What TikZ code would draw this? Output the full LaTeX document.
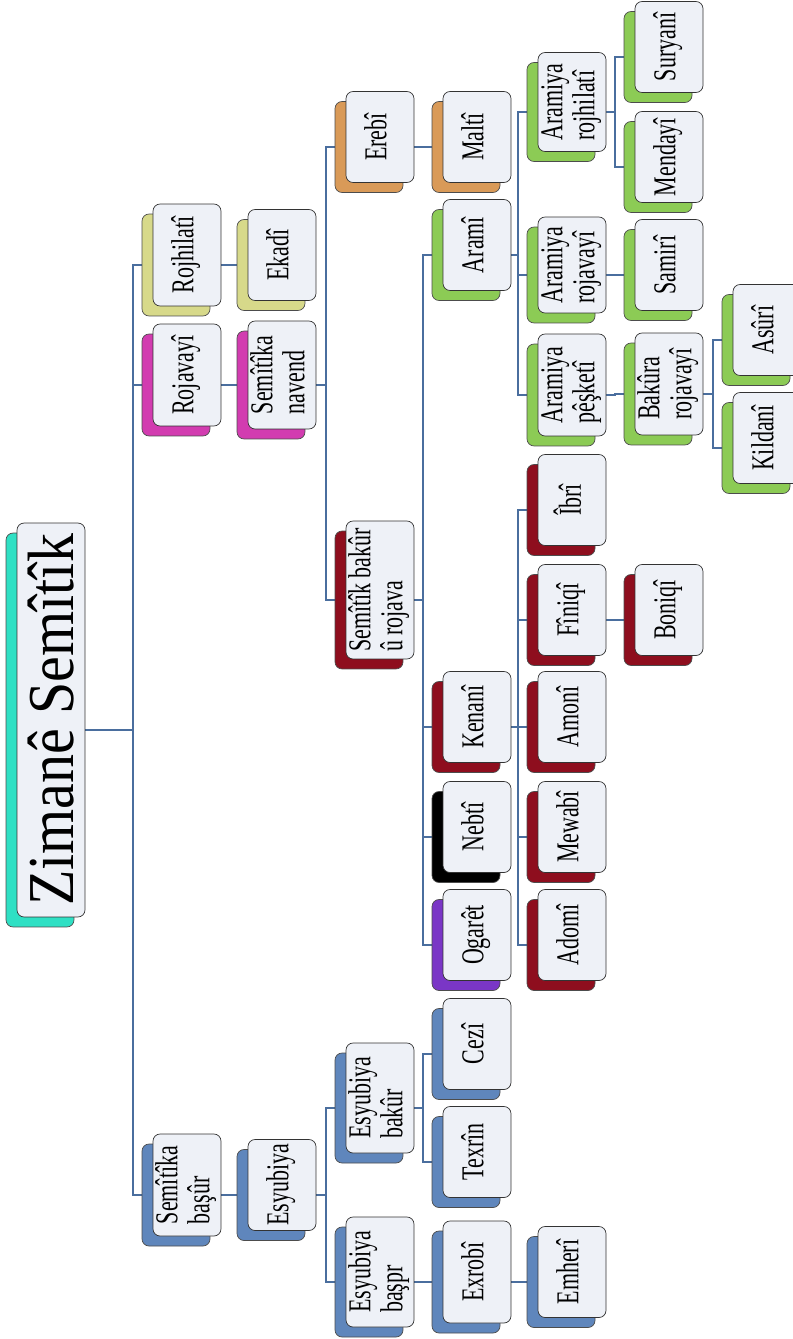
\documentclass[tikz,border=0pt]{standalone}
\usepackage{fontspec}
\usepackage{graphicx}
\setmainfont{Liberation Serif}
\usetikzlibrary{shadows,backgrounds}

\definecolor{boxfill}{HTML}{EEF1F7}
\definecolor{linkblue}{HTML}{4A6E9E}
\definecolor{shroot}{HTML}{2FE0C4}
\definecolor{shkhaki}{HTML}{D7D98A}
\definecolor{shpink}{HTML}{D23CB0}
\definecolor{shorange}{HTML}{D99A58}
\definecolor{shred}{HTML}{8E0E1E}
\definecolor{shpurple}{HTML}{7A36C6}
\definecolor{shgreen}{HTML}{8CCB55}
\definecolor{shblue}{HTML}{5F86BC}

\newcommand{\rtext}[1]{\rotatebox{90}{\scalebox{1}[1.45]{\begin{tabular}{@{}l@{}}#1\end{tabular}}}}

\tikzset{
    lang/.style={
           rectangle,
           draw=black!80, thin,
           rounded corners=4pt,
           fill=boxfill,
           minimum width=1.36cm, minimum height=1.82cm,
           inner xsep=1pt, inner ysep=2pt,
           font=\fontsize{12.5}{12.5}\selectfont,
           copy shadow={shadow xshift=-0.22cm, shadow yshift=-0.2cm, fill=#1, draw=black!70},
           },
    tall/.style={minimum height=2.04cm},
    link/.style={draw=linkblue, line width=1.1pt},
}

\begin{document}
\begin{tikzpicture}[x=0.02cm, y=-0.02cm]
\useasboundingbox (0,0) rectangle (793,1339);

       % root
       \node[lang=shroot, minimum height=7.88cm, font=\fontsize{33}{36}\selectfont] (ROOT) at (51,720)
            {\rotatebox{90}{\scalebox{1}[1.13]{Zimanê Semîtîk}}};

       % first level
       \node[lang=shkhaki, tall] (ROJHILATI) at (187,255) {\rtext{Rojhilatî}};
       \node[lang=shpink, tall] (ROJAVAYI) at (187,375) {\rtext{Rojavayî}};
       \node[lang=shblue, tall] (SEMBASUR) at (187,1185) {\rtext{Semîtîka\\ başûr}};

       \node[lang=shkhaki] (EKADI) at (282,255) {\rtext{Ekadî}};
       \node[lang=shpink, minimum height=2.16cm] (SEMNAVEND) at (282,375) {\rtext{Semîtîka\\ navend}};
       \node[lang=shblue] (ESYUBIYA) at (282,1185) {\rtext{Esyubiya}};

       \node[lang=shorange] (EREBI) at (380,137) {\rtext{Erebî}};
       \node[lang=shred, minimum height=2.76cm] (SEMBAKUR) at (380,590) {\rtext{Semîtîk bakûr\\ û rojava}};
       \node[lang=shblue, minimum height=2.2cm] (ESBAKUR) at (380,1098) {\rtext{Esyubiya\\ bakûr}};
       \node[lang=shblue, minimum height=2.2cm] (ESBASPR) at (380,1272) {\rtext{Esyubiya\\ başpr}};

       \node[lang=shorange] (MALTI) at (477,137) {\rtext{Maltî}};
       \node[lang=shgreen] (ARAMI) at (477,245) {\rtext{Aramî}};
       \node[lang=shred] (KENANI) at (477,717) {\rtext{Kenanî}};
       \node[lang=black] (NEBTI) at (477,827) {\rtext{Nebtî}};
       \node[lang=shpurple] (OGARET) at (477,935) {\rtext{Ogarêt}};
       \node[lang=shblue] (CEZI) at (477,1044) {\rtext{Cezî}};
       \node[lang=shblue] (TEXRIN) at (477,1152) {\rtext{Texrîn}};
       \node[lang=shblue, tall] (EXROBI) at (477,1272) {\rtext{Exrobî}};

       \node[lang=shgreen, minimum height=1.98cm] (ARROJHILATI) at (572,102) {\rtext{Aramiya\\ rojhilatî}};
       \node[lang=shgreen, minimum height=1.92cm] (ARROJAVAYI) at (572,265) {\rtext{Aramiya\\ rojavayî}};
       \node[lang=shgreen, tall] (ARPESKETI) at (572,385) {\rtext{Aramiya\\ pêşketî}};
       \node[lang=shred] (IBRI) at (572,500) {\rtext{Îbrî}};
       \node[lang=shred] (FINIQI) at (572,610) {\rtext{Fîniqî}};
       \node[lang=shred] (AMONI) at (572,717) {\rtext{Amonî}};
       \node[lang=shred] (MEWABI) at (572,827) {\rtext{Mewabî}};
       \node[lang=shred] (ADOMI) at (572,935) {\rtext{Adomî}};
       \node[lang=shblue] (EMHERI) at (572,1272) {\rtext{Emherî}};

       \node[lang=shgreen] (SURYANI) at (669,47) {\rtext{Suryanî}};
       \node[lang=shgreen] (MENDAYI) at (669,157) {\rtext{Mendayî}};
       \node[lang=shgreen] (SAMIRI) at (669,265) {\rtext{Samirî}};
       \node[lang=shgreen, tall] (BAKROJAVAYI) at (669,384) {\rtext{Bakûra\\ rojavayî}};
       \node[lang=shred] (BONIQI) at (669,610) {\rtext{Boniqî}};

       \node[lang=shgreen] (ASURI) at (767,330) {\rtext{Asûrî}};
       \node[lang=shgreen] (KILDANI) at (767,438) {\rtext{Kildanî}};

       % connectors
       \begin{scope}[on background layer]
       \foreach \a/\b in {ROOT/ROJHILATI, ROOT/ROJAVAYI, ROOT/SEMBASUR,
                          ROJHILATI/EKADI, ROJAVAYI/SEMNAVEND,
                          SEMNAVEND/EREBI, SEMNAVEND/SEMBAKUR, EREBI/MALTI,
                          SEMBAKUR/ARAMI, SEMBAKUR/KENANI, SEMBAKUR/NEBTI, SEMBAKUR/OGARET,
                          ARAMI/ARROJHILATI, ARAMI/ARROJAVAYI, ARAMI/ARPESKETI,
                          ARROJHILATI/SURYANI, ARROJHILATI/MENDAYI, ARROJAVAYI/SAMIRI,
                          ARPESKETI/BAKROJAVAYI, BAKROJAVAYI/ASURI, BAKROJAVAYI/KILDANI,
                          KENANI/IBRI, KENANI/FINIQI, KENANI/AMONI, KENANI/MEWABI, KENANI/ADOMI,
                          FINIQI/BONIQI,
                          SEMBASUR/ESYUBIYA, ESYUBIYA/ESBAKUR, ESYUBIYA/ESBASPR,
                          ESBAKUR/CEZI, ESBAKUR/TEXRIN, ESBASPR/EXROBI, EXROBI/EMHERI}
           \draw[link] ([yshift=-2mm]\a.east) -| ([xshift=-4mm,yshift=-2mm]\b.west) -- ([yshift=-2mm]\b.west);
       \end{scope}

\end{tikzpicture}
\end{document}
